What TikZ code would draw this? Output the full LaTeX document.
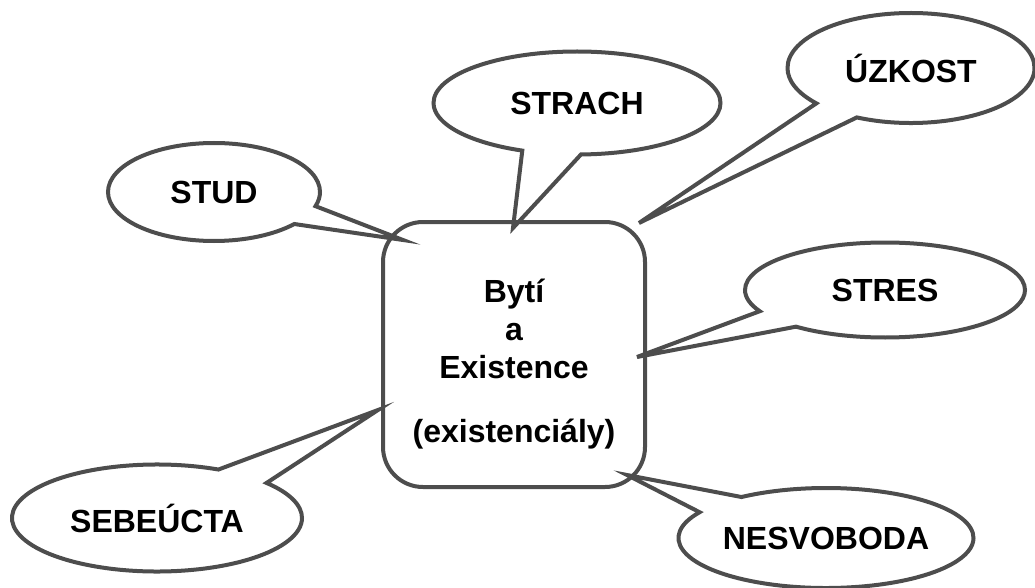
\documentclass[tikz,border=0pt]{standalone}
\usepackage{fontspec}
\setmainfont{Liberation Sans}
\usetikzlibrary{shapes.callouts}
\definecolor{linegray}{HTML}{4D4D4D}
\begin{document}
\begin{tikzpicture}[x=1pt,y=-1pt,font=\fontsize{32}{38}\selectfont\bfseries,line width=4pt,
	bubble/.style={ellipse callout,draw=linegray,inner sep=0pt,callout pointer arc=24},
	core/.style={draw=linegray,rounded corners=40pt,minimum width=262pt,minimum height=265pt,align=center}]
	\useasboundingbox (0,0) rectangle (1035,588);
	\node[core] (box) at (514,354.5) {\rule{0pt}{42pt}Bytí\\a\\Existence\\[26pt](existenciály)};
	\node[bubble,minimum width=212pt,minimum height=98pt,callout absolute pointer={([shift={(22,20)}]box.north west)}] (stud) at (214,192) {STUD};
	\node[bubble,minimum width=287pt,minimum height=103pt,callout absolute pointer={([shift={(-1,8)}]box.north)}] (strach) at (577,103) {STRACH};
	\node[bubble,minimum width=247pt,minimum height=110pt,callout absolute pointer={([shift={(-8,3)}]box.north east)}] (uzkost) at (911,68) {ÚZKOST};
	\node[bubble,minimum width=280pt,minimum height=95pt,callout absolute pointer={([shift={(-10,2.5)}]box.east)}] (stres) at (885,290) {STRES};
	\node[bubble,minimum width=295pt,minimum height=100pt,callout absolute pointer={([shift={(-20,-14)}]box.south east)}] (nesvoboda) at (826,538) {NESVOBODA};
	\node[bubble,minimum width=290pt,minimum height=107pt,callout absolute pointer={([shift={(-3,55.5)}]box.west)}] (sebeucta) at (157,518) {SEBEÚCTA};
\end{tikzpicture}
\end{document}
